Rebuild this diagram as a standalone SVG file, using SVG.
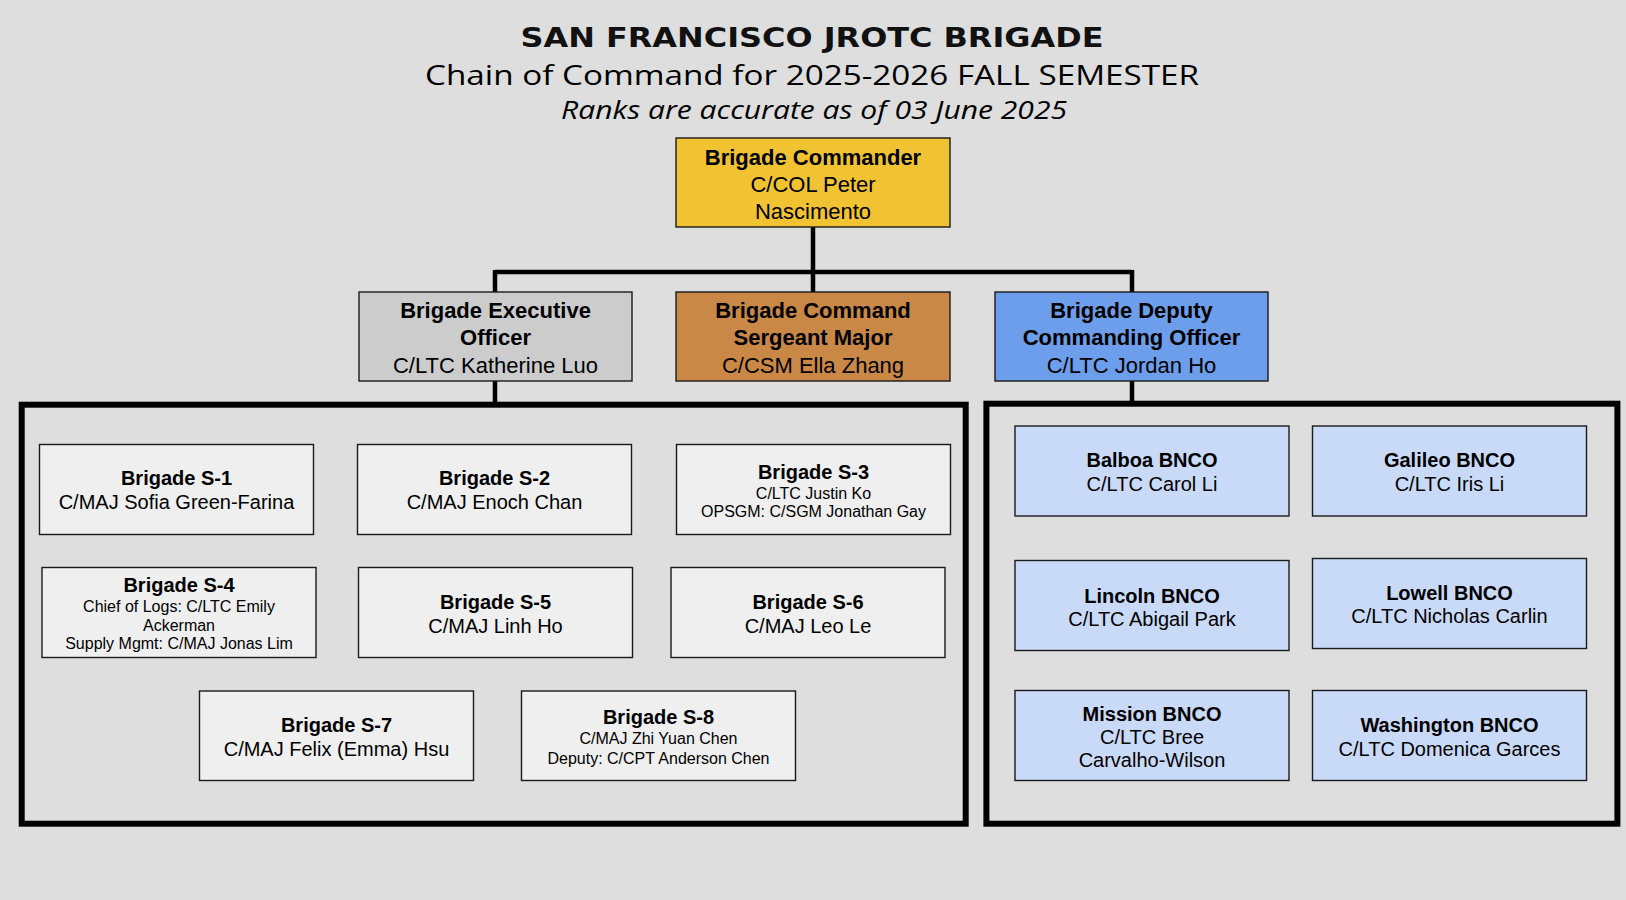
<svg xmlns="http://www.w3.org/2000/svg" width="1626" height="900" viewBox="0 0 1626 900">
<style>
.box{stroke:#1a1a1a;stroke-width:1.4}
.cmd{fill:#f1c232}.xo{fill:#cccccc}.csm{fill:#c98846}.dco{fill:#6d9eeb}
.s{fill:#efefef}.bn{fill:#c9daf8}
.cont{fill:#dedede;stroke:#000;stroke-width:6}
.conn{fill:none;stroke:#000;stroke-width:4.5}
text{font-family:"Liberation Sans",Arial,sans-serif;fill:#000;text-anchor:middle}
.h22{font-size:22px}.b{font-weight:bold}.h20{font-size:20px}.h16{font-size:16px}
.t1{font-family:"DejaVu Sans","Liberation Sans",sans-serif;font-weight:900;font-size:26px;fill:#111}
.t2{font-family:"Open Sans","Noto Sans",sans-serif;font-size:28px}
.t3{font-family:"Open Sans","Noto Sans",sans-serif;font-size:25px;font-style:italic}
</style>
<rect x="0" y="0" width="1626" height="900" fill="#dedede"/>
<g id="title">
<text class="t1" x="812" y="47" textLength="583" lengthAdjust="spacingAndGlyphs">SAN FRANCISCO JROTC BRIGADE</text>
<text class="t2" x="812" y="85" textLength="774" lengthAdjust="spacingAndGlyphs">Chain of Command for 2025-2026 FALL SEMESTER</text>
<text class="t3" x="814" y="119" textLength="506" lengthAdjust="spacingAndGlyphs">Ranks are accurate as of 03 June 2025</text>
</g>
<g id="containers">
<rect class="cont" x="21.7" y="404.7" width="944" height="419"/>
<rect class="cont" x="986.4" y="403.7" width="631" height="420"/>
</g>
<g id="connectors">
<path class="conn" d="M813 227 V272 M495 272 H1132 M495 270 V292 M813 272 V292 M1132 270 V292 M495 381 V402 M1132 381 V401"/>
</g>
<g id="commander">
<rect class="box cmd" x="676" y="138" width="274" height="89"/>
<text class="h22" x="813" y="164.5"><tspan class="b">Brigade Commander</tspan><tspan x="813" dy="27">C/COL Peter</tspan><tspan x="813" dy="27">Nascimento</tspan></text>
</g>
<g id="xo">
<rect class="box xo" x="359" y="292" width="273" height="89"/>
<text class="h22 b" x="495.5" y="317.5">Brigade Executive<tspan x="495.5" dy="27.5">Officer</tspan><tspan x="495.5" dy="27.5" font-weight="normal">C/LTC Katherine Luo</tspan></text>
</g>
<g id="csm">
<rect class="box csm" x="676" y="292" width="274" height="89"/>
<text class="h22 b" x="813" y="317.5">Brigade Command<tspan x="813" dy="27.5">Sergeant Major</tspan><tspan x="813" dy="27.5" font-weight="normal">C/CSM Ella Zhang</tspan></text>
</g>
<g id="dco">
<rect class="box dco" x="995" y="292" width="273" height="89"/>
<text class="h22 b" x="1131.5" y="317.5">Brigade Deputy<tspan x="1131.5" dy="27.5">Commanding Officer</tspan><tspan x="1131.5" dy="27.5" font-weight="normal">C/LTC Jordan Ho</tspan></text>
</g>
<g id="s1">
<rect class="box s" x="39.5" y="444.5" width="274" height="90"/>
<text class="h20" x="176.5" y="485"><tspan class="b">Brigade S-1</tspan><tspan x="176.5" dy="24">C/MAJ Sofia Green-Farina</tspan></text>
</g>
<g id="s2">
<rect class="box s" x="357.5" y="444.5" width="274" height="90"/>
<text class="h20" x="494.5" y="485"><tspan class="b">Brigade S-2</tspan><tspan x="494.5" dy="24">C/MAJ Enoch Chan</tspan></text>
</g>
<g id="s3">
<rect class="box s" x="676.5" y="444.5" width="274" height="90"/>
<text class="h20 b" x="813.5" y="479">Brigade S-3</text>
<text class="h16" x="813.5" y="498.5">C/LTC Justin Ko<tspan x="813.5" dy="18.7">OPSGM: C/SGM Jonathan Gay</tspan></text>
</g>
<g id="s4">
<rect class="box s" x="42" y="567.5" width="274" height="90"/>
<text class="h20 b" x="179" y="592">Brigade S-4</text>
<text class="h16" x="179" y="612.3">Chief of Logs: C/LTC Emily<tspan x="179" dy="18.2">Ackerman</tspan><tspan x="179" dy="18.2">Supply Mgmt: C/MAJ Jonas Lim</tspan></text>
</g>
<g id="s5">
<rect class="box s" x="358.5" y="567.5" width="274" height="90"/>
<text class="h20" x="495.5" y="608.7"><tspan class="b">Brigade S-5</tspan><tspan x="495.5" dy="24">C/MAJ Linh Ho</tspan></text>
</g>
<g id="s6">
<rect class="box s" x="671" y="567.5" width="274" height="90"/>
<text class="h20" x="808" y="608.7"><tspan class="b">Brigade S-6</tspan><tspan x="808" dy="24">C/MAJ Leo Le</tspan></text>
</g>
<g id="s7">
<rect class="box s" x="199.5" y="691" width="274" height="89.5"/>
<text class="h20" x="336.5" y="732"><tspan class="b">Brigade S-7</tspan><tspan x="336.5" dy="23.5">C/MAJ Felix (Emma) Hsu</tspan></text>
</g>
<g id="s8">
<rect class="box s" x="521.5" y="691" width="274" height="89.5"/>
<text class="h20 b" x="658.5" y="724">Brigade S-8</text>
<text class="h16" x="658.5" y="744.2">C/MAJ Zhi Yuan Chen<tspan x="658.5" dy="19.7">Deputy: C/CPT Anderson Chen</tspan></text>
</g>
<g id="balboa">
<rect class="box bn" x="1015" y="426" width="274" height="90"/>
<text class="h20" x="1152" y="466.6"><tspan class="b">Balboa BNCO</tspan><tspan x="1152" dy="24">C/LTC Carol Li</tspan></text>
</g>
<g id="galileo">
<rect class="box bn" x="1312.5" y="426" width="274" height="90"/>
<text class="h20" x="1449.5" y="466.6"><tspan class="b">Galileo BNCO</tspan><tspan x="1449.5" dy="24">C/LTC Iris Li</tspan></text>
</g>
<g id="lincoln">
<rect class="box bn" x="1015" y="560.5" width="274" height="90"/>
<text class="h20" x="1152" y="602.5"><tspan class="b">Lincoln BNCO</tspan><tspan x="1152" dy="23.5">C/LTC Abigail Park</tspan></text>
</g>
<g id="lowell">
<rect class="box bn" x="1312.5" y="558.5" width="274" height="90"/>
<text class="h20" x="1449.5" y="599.5"><tspan class="b">Lowell BNCO</tspan><tspan x="1449.5" dy="23.5">C/LTC Nicholas Carlin</tspan></text>
</g>
<g id="mission">
<rect class="box bn" x="1015" y="690.5" width="274" height="90"/>
<text class="h20" x="1152" y="720.7"><tspan class="b">Mission BNCO</tspan><tspan x="1152" dy="23.3">C/LTC Bree</tspan><tspan x="1152" dy="23.3">Carvalho-Wilson</tspan></text>
</g>
<g id="washington">
<rect class="box bn" x="1312.5" y="690.5" width="274" height="90"/>
<text class="h20" x="1449.5" y="732"><tspan class="b">Washington BNCO</tspan><tspan x="1449.5" dy="23.5">C/LTC Domenica Garces</tspan></text>
</g>
</svg>
